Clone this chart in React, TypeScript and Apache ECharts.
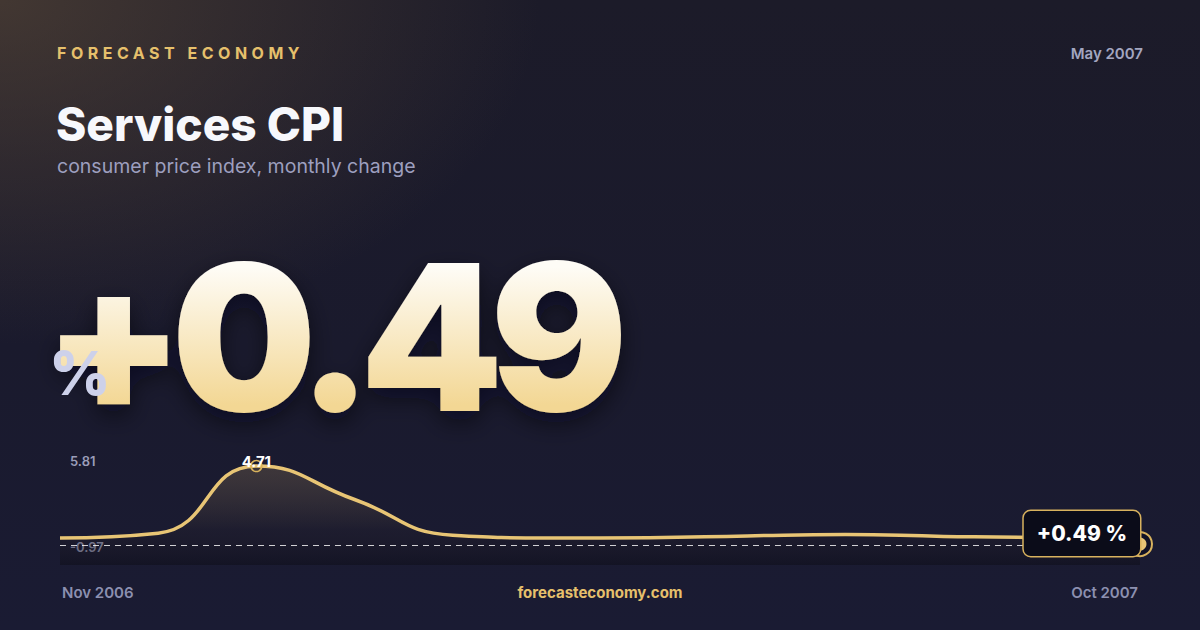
import { useEffect, useRef } from "react";
import * as echarts from "echarts";

// monthly change, %
const months = ["Nov 2006", "Dec 2006", "Jan 2007", "Feb 2007", "Mar 2007", "Apr 2007", "May 2007", "Jun 2007", "Jul 2007", "Aug 2007", "Sep 2007", "Oct 2007"];
const values = [0.44, 0.72, 4.71, 2.72, 0.6, 0.44, 0.45, 0.56, 0.64, 0.53, 0.47, 0.49];
const yLabels = [5.81, -0.97];
const yAxisRange = [-1.17, 5.81];
const headerDate = "May 2007";
const latest = 0.49;

const GOLD = "#e8c575";
const FONT = "Inter, 'Noto Sans', sans-serif";

const fmt = (v: number) => (v > 0 ? "+" : "") + v.toFixed(2);

export default function App() {
  const ref = useRef<HTMLDivElement>(null);

  useEffect(() => {
    if (!ref.current) return;
    const chart = echarts.init(ref.current, undefined, { renderer: "svg" });
    const peakIdx = values.indexOf(Math.max(...values));
    const last = values.length - 1;

    chart.setOption({
      animation: false,
      backgroundColor: "transparent",
      grid: { left: 60, right: 60, top: 447.5, bottom: 65 },
      xAxis: { type: "category", data: months, boundaryGap: false, show: false },
      yAxis: { type: "value", min: yAxisRange[0], max: yAxisRange[1], show: false },
      graphic: [
        { type: "text", left: 57, top: 45, style: { text: "FORECAST ECONOMY", fill: "#e6c06c", font: `700 16px ${FONT}` } },
        { type: "text", right: 57, top: 46, style: { text: headerDate, fill: "#a3a6c0", font: `600 15px ${FONT}` } },
        { type: "text", x: 56, y: 124, style: { text: "Services CPI", fill: "#f7f8fc", font: `800 46px ${FONT}`, verticalAlign: "middle" } },
        { type: "text", x: 57, y: 166, style: { text: "consumer price index, monthly change", fill: "#9d9fbf", font: `400 19.5px ${FONT}`, verticalAlign: "middle" } },
        {
          type: "text", x: 43, y: 336, z: 2,
          style: { text: fmt(latest), font: `900 204px ${FONT}`, verticalAlign: "middle", fill: "#f7e4b8" },
        },
        { type: "text", x: 49, y: 373, z: 3, style: { text: "%", fill: "#cdd1ea", font: `800 60px ${FONT}`, verticalAlign: "middle" } },
        { type: "text", x: 70, y: 461, style: { text: yLabels[0].toFixed(2), fill: "#9a9db9", font: `600 13px ${FONT}`, verticalAlign: "middle" } },
        { type: "text", x: 70, y: 547, style: { text: yLabels[1].toFixed(2), fill: "#9a9db9", font: `600 13px ${FONT}`, verticalAlign: "middle" } },
        { type: "text", x: 62, y: 592, style: { text: months[0], fill: "#8c90b0", font: `600 15px ${FONT}`, verticalAlign: "middle" } },
        { type: "text", x: 600, y: 592, style: { text: "forecasteconomy.com", fill: "#e6c06c", font: `700 15px ${FONT}`, align: "center", verticalAlign: "middle" } },
        { type: "text", x: 1138, y: 592, style: { text: months[last], fill: "#8c90b0", font: `600 15px ${FONT}`, align: "right", verticalAlign: "middle" } },
      ],
      series: [
        {
          type: "line",
          data: values,
          smooth: true,
          symbol: "none",
          lineStyle: { color: GOLD, width: 3.5 },
          areaStyle: {
            origin: "start",
            color: new echarts.graphic.LinearGradient(0, 0, 0, 1, [
              { offset: 0, color: "rgba(232,190,110,0.25)" },
              { offset: 0.65, color: "rgba(40,34,40,0.35)" },
              { offset: 1, color: "rgba(10,10,18,0.6)" },
            ]),
          },
          markLine: {
            silent: true,
            symbol: "none",
            label: { show: false },
            lineStyle: { color: "rgba(255,255,255,0.8)", type: [6, 5], width: 1 },
            data: [{ yAxis: 0 }],
          },
          markPoint: {
            z: 10,
            data: [
              {
                coord: [peakIdx, values[peakIdx]],
                symbol: "circle",
                symbolSize: 11,
                itemStyle: { color: "rgba(0,0,0,0)", borderColor: "#d9b35c", borderWidth: 1.5 },
                label: {
                  show: true, position: "inside", offset: [0, -5],
                  formatter: values[peakIdx].toFixed(2),
                  color: "#ffffff", fontFamily: FONT, fontWeight: 700, fontSize: 15,
                },
              },
              {
                coord: [last, values[last]],
                symbol: "circle",
                symbolSize: 0,
                label: {
                  show: true, position: "left", distance: 0, offset: [0, -3.5],
                  formatter: fmt(values[last]) + " %",
                  color: "#ffffff", fontFamily: FONT, fontWeight: 800, fontSize: 21,
                  backgroundColor: "#0b0c19", borderColor: "#d8b25e", borderWidth: 1.5,
                  borderRadius: 7, padding: [12, 13],
                },
              },
              {
                coord: [last, values[last]],
                symbol: "circle",
                symbolSize: 24,
                symbolOffset: [0, 7],
                itemStyle: { color: "#111226", borderColor: "#d8b25e", borderWidth: 2 },
                label: { show: false },
              },
              {
                coord: [last, values[last]],
                symbol: "circle",
                symbolSize: 13,
                symbolOffset: [0, 7],
                itemStyle: { color: GOLD },
                label: { show: false },
              },
            ],
          },
        },
      ],
    });

    // ECharts has no letter-spacing or gradient text fill in svg; patch the rendered nodes
    const svg = ref.current.querySelector("svg");
    if (svg) {
      const ns = "http://www.w3.org/2000/svg";
      let defs = svg.querySelector("defs");
      if (!defs) { defs = document.createElementNS(ns, "defs"); svg.insertBefore(defs, svg.firstChild); }
      const grad = document.createElementNS(ns, "linearGradient");
      grad.setAttribute("id", "big-num-grad");
      grad.setAttribute("x1", "0"); grad.setAttribute("y1", "0");
      grad.setAttribute("x2", "0"); grad.setAttribute("y2", "1");
      [["0.22", "#fefcf6"], ["0.78", "#f3d794"]].forEach(([o, c]) => {
        const s = document.createElementNS(ns, "stop");
        s.setAttribute("offset", o); s.setAttribute("stop-color", c);
        grad.appendChild(s);
      });
      defs.appendChild(grad);
      const filter = document.createElementNS(ns, "filter");
      filter.setAttribute("id", "big-num-shadow");
      filter.setAttribute("x", "-20%"); filter.setAttribute("y", "-20%");
      filter.setAttribute("width", "140%"); filter.setAttribute("height", "160%");
      const drop = document.createElementNS(ns, "feDropShadow");
      drop.setAttribute("dx", "0"); drop.setAttribute("dy", "10");
      drop.setAttribute("stdDeviation", "12");
      drop.setAttribute("flood-color", "#05050c"); drop.setAttribute("flood-opacity", "0.55");
      filter.appendChild(drop);
      defs.appendChild(filter);
      svg.querySelectorAll("text").forEach((t) => {
        if (t.textContent === "FORECAST ECONOMY") t.setAttribute("letter-spacing", "4.5");
        if (t.textContent === fmt(latest)) {
          t.setAttribute("letter-spacing", "-13");
          t.setAttribute("fill", "url(#big-num-grad)");
          t.setAttribute("filter", "url(#big-num-shadow)");
        }
      });
    }

    const resize = () => chart.resize();
    window.addEventListener("resize", resize);
    return () => { window.removeEventListener("resize", resize); chart.dispose(); };
  }, []);

  return (
    <div
      style={{
        position: "fixed", left: 0, top: 0, width: 1200, height: 630,
        background:
          "radial-gradient(ellipse 720px 460px at 0% 0%, rgba(92,74,56,0.6), rgba(92,74,56,0) 75%), linear-gradient(180deg, #1c1b29 0%, #1a1a2d 55%, #1a1b33 100%)",
      }}
    >
      <div ref={ref} style={{ width: 1200, height: 630 }} />
    </div>
  );
}
